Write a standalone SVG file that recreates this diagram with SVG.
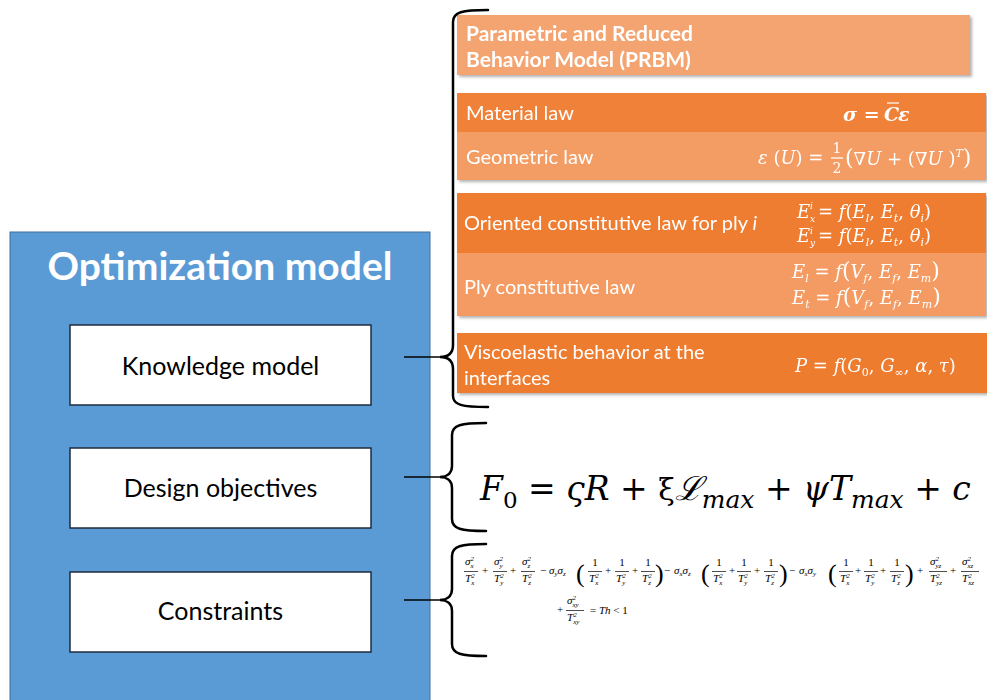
<svg xmlns="http://www.w3.org/2000/svg" width="987" height="700" viewBox="0 0 987 700">
<defs>
<filter id="sh" x="-5%" y="-20%" width="110%" height="150%"><feDropShadow dx="2" dy="2" stdDeviation="1.5" flood-color="#000" flood-opacity="0.3"/></filter>
</defs>
<style>
text{font-family:Lato,"Liberation Sans",sans-serif;}
.lbl{font-size:25px;fill:#000;}
.ot{fill:#fff;font-size:20px;}
.hd{fill:#fff;font-size:21px;font-weight:bold;}
.m{font-family:"DejaVu Serif","Liberation Serif",serif;font-style:italic;}
.cm{font-family:"Liberation Serif","DejaVu Serif",serif;font-style:italic;font-size:11px;fill:#000;}
.r{font-style:normal;}
.s{font-size:7px;}
.w{fill:#fff;}
.brace{fill:none;stroke:#000;stroke-width:2.5;stroke-linecap:round;}
.conn{stroke:#000;stroke-width:1.6;}
.box{fill:#fff;stroke:#1f2d3d;stroke-width:1.5;}
.bar{stroke:#000;stroke-width:0.7;}
.wbar{stroke:#fff;stroke-width:1.2;}
.par{font-family:"Liberation Serif",serif;font-style:normal;font-size:26px;}
</style>
<rect width="987" height="700" fill="#fff"/>

<g id="optimization-model">
<rect x="10" y="232" width="420" height="470" fill="#5B9BD5" stroke="#41719C" stroke-width="1"/>
<text x="220" y="280" text-anchor="middle" font-size="39" font-weight="bold" fill="#fff">Optimization model</text>
</g>

<g id="knowledge-model">
<rect class="box" x="70" y="325" width="301" height="80"/>
<text class="lbl" x="220.5" y="375" text-anchor="middle">Knowledge model</text>
</g>
<g id="design-objectives">
<rect class="box" x="70" y="448" width="301" height="80"/>
<text class="lbl" x="220.5" y="497" text-anchor="middle">Design objectives</text>
</g>
<g id="constraints">
<rect class="box" x="70" y="572" width="301" height="80"/>
<text class="lbl" x="220.5" y="620" text-anchor="middle">Constraints</text>
</g>

<g id="prbm" filter="url(#sh)">
<rect x="457" y="15" width="513" height="60" fill="#F3A470"/>
<text class="hd" x="466" y="41">Parametric and Reduced</text>
<text class="hd" x="466" y="67">Behavior Model (PRBM)</text>
</g>

<g id="material-geometric" filter="url(#sh)">
<rect x="457" y="93" width="529" height="39" fill="#EF8139"/>
<rect x="457" y="132" width="529" height="48" fill="#F39D65"/>
<text class="ot" x="466" y="120">Material law</text>
<text class="ot" x="466" y="164">Geometric law</text>
<text class="m w" x="843" y="121" font-size="19" font-weight="bold">σ<tspan class="r"> = </tspan></text>
<text class="m w" x="884" y="121" font-size="19" font-weight="bold">C</text>
<line class="wbar" x1="887" y1="103" x2="899" y2="103"/>
<text class="m w" x="898" y="121" font-size="19" font-weight="bold">ε</text>
<text class="m w" x="758" y="164" font-size="18">ε<tspan class="r"> (</tspan>U<tspan class="r">) = </tspan></text>
<text class="m w r" x="837" y="153" font-size="14" text-anchor="middle">1</text>
<line class="wbar" x1="831" y1="158" x2="843" y2="158"/>
<text class="m w r" x="837" y="173" font-size="14" text-anchor="middle">2</text>
<text class="m w" x="845" y="165" font-size="18"><tspan class="r" font-size="22">(</tspan>∇U<tspan class="r"> + (</tspan>∇U<tspan class="r"> )</tspan><tspan font-size="11" dy="-8">T</tspan><tspan class="r" font-size="22" dy="8">)</tspan></text>
</g>

<g id="oriented-ply" filter="url(#sh)">
<rect x="457" y="193" width="529" height="60" fill="#EE7D32"/>
<rect x="457" y="253" width="529" height="63" fill="#F39B62"/>
<text class="ot" x="464" y="230">Oriented constitutive law for ply <tspan font-style="italic">i</tspan></text>
<text class="ot" x="464" y="294">Ply constitutive law</text>
<text class="m w" x="797" y="218" font-size="18">E</text>
<text class="m w" x="810" y="209" font-size="9">i</text>
<text class="m w" x="810" y="222" font-size="9">x</text>
<text class="m w" x="818" y="218" font-size="18"><tspan class="r">= </tspan>f<tspan class="r">(</tspan>E<tspan font-size="11" dy="4">l</tspan><tspan class="r" dy="-4">, </tspan>E<tspan font-size="11" dy="4">t</tspan><tspan class="r" dy="-4">, </tspan>θ<tspan font-size="11" dy="4">i</tspan><tspan class="r" dy="-4">)</tspan></text>
<text class="m w" x="797" y="242" font-size="18">E</text>
<text class="m w" x="810" y="234" font-size="9">i</text>
<text class="m w" x="810" y="246" font-size="9">y</text>
<text class="m w" x="818" y="242" font-size="18"><tspan class="r">= </tspan>f<tspan class="r">(</tspan>E<tspan font-size="11" dy="4">l</tspan><tspan class="r" dy="-4">, </tspan>E<tspan font-size="11" dy="4">t</tspan><tspan class="r" dy="-4">, </tspan>θ<tspan font-size="11" dy="4">i</tspan><tspan class="r" dy="-4">)</tspan></text>
<text class="m w" x="792" y="278" font-size="18">E<tspan font-size="11" dy="4">l</tspan><tspan class="r" dy="-4"> = </tspan>f<tspan class="r" font-size="22">(</tspan>V<tspan font-size="11" dy="4">f</tspan><tspan class="r" dy="-4">, </tspan>E<tspan font-size="11" dy="4">f</tspan><tspan class="r" dy="-4">, </tspan>E<tspan font-size="11" dy="4">m</tspan><tspan class="r" font-size="22" dy="-4">)</tspan></text>
<text class="m w" x="792" y="304" font-size="18">E<tspan font-size="11" dy="4">t</tspan><tspan class="r" dy="-4"> = </tspan>f<tspan class="r" font-size="22">(</tspan>V<tspan font-size="11" dy="4">f</tspan><tspan class="r" dy="-4">, </tspan>E<tspan font-size="11" dy="4">f</tspan><tspan class="r" dy="-4">, </tspan>E<tspan font-size="11" dy="4">m</tspan><tspan class="r" font-size="22" dy="-4">)</tspan></text>
</g>

<g id="viscoelastic" filter="url(#sh)">
<rect x="457" y="333" width="530" height="60" fill="#ED7B2F"/>
<text class="ot" x="464" y="359">Viscoelastic behavior at the</text>
<text class="ot" x="464" y="385">interfaces</text>
<text class="m w" x="795" y="372" font-size="18">P<tspan class="r"> = </tspan>f<tspan class="r">(</tspan>G<tspan class="r" font-size="11" dy="4">0</tspan><tspan class="r" dy="-4">, </tspan>G<tspan class="r" font-size="11" dy="4">∞</tspan><tspan class="r" dy="-4">, </tspan>α<tspan class="r">, </tspan>τ<tspan class="r">)</tspan></text>
</g>

<g id="objective-formula">
<text class="m" x="480" y="500" font-size="33">F<tspan class="r" font-size="23" dy="8">0</tspan><tspan class="r" dy="-8"> = </tspan>ςR<tspan class="r"> + </tspan><tspan class="r" font-size="30">ξ</tspan>ℒ<tspan font-size="25" dy="8">max</tspan><tspan class="r" dy="-8"> + </tspan>ψT<tspan font-size="25" dy="8">max</tspan><tspan class="r" dy="-8"> + </tspan>c</text>
</g>

<g id="constraint-formula">
<text class="cm" x="465" y="565">σ<tspan class="s" dy="-4.5">2</tspan><tspan class="s" dx="-3.5" dy="7.5">x</tspan></text>
<line class="bar" x1="464" y1="571.5" x2="478" y2="571.5"/>
<text class="cm" x="465" y="582">T<tspan class="s" dy="-4.5">2</tspan><tspan class="s" dx="-3.5" dy="7.5">x</tspan></text>
<text class="cm r" x="485" y="574" text-anchor="middle">+</text>
<text class="cm" x="494" y="565">σ<tspan class="s" dy="-4.5">2</tspan><tspan class="s" dx="-3.5" dy="7.5">y</tspan></text>
<line class="bar" x1="493" y1="571.5" x2="507" y2="571.5"/>
<text class="cm" x="494" y="582">T<tspan class="s" dy="-4.5">2</tspan><tspan class="s" dx="-3.5" dy="7.5">y</tspan></text>
<text class="cm r" x="513" y="574" text-anchor="middle">+</text>
<text class="cm" x="522" y="565">σ<tspan class="s" dy="-4.5">2</tspan><tspan class="s" dx="-3.5" dy="7.5">z</tspan></text>
<line class="bar" x1="521" y1="571.5" x2="535" y2="571.5"/>
<text class="cm" x="522" y="582">T<tspan class="s" dy="-4.5">2</tspan><tspan class="s" dx="-3.5" dy="7.5">z</tspan></text>
<text class="cm r" x="543" y="574" text-anchor="middle">−</text>
<text class="cm" x="549" y="574">σ<tspan class="s" dy="2">y</tspan><tspan dy="-2">σ</tspan><tspan class="s" dy="2">z</tspan></text>
<text class="cm par" x="576" y="582">(</text>
<text class="cm r" x="595" y="566" text-anchor="middle">1</text>
<line class="bar" x1="588" y1="571.5" x2="602" y2="571.5"/>
<text class="cm" x="589" y="582">T<tspan class="s" dy="-4.5">2</tspan><tspan class="s" dx="-3.5" dy="7.5">x</tspan></text>
<text class="cm r" x="608" y="574" text-anchor="middle">+</text>
<text class="cm r" x="622" y="566" text-anchor="middle">1</text>
<line class="bar" x1="615" y1="571.5" x2="629" y2="571.5"/>
<text class="cm" x="616" y="582">T<tspan class="s" dy="-4.5">2</tspan><tspan class="s" dx="-3.5" dy="7.5">y</tspan></text>
<text class="cm r" x="635" y="574" text-anchor="middle">+</text>
<text class="cm r" x="648" y="566" text-anchor="middle">1</text>
<line class="bar" x1="641" y1="571.5" x2="655" y2="571.5"/>
<text class="cm" x="642" y="582">T<tspan class="s" dy="-4.5">2</tspan><tspan class="s" dx="-3.5" dy="7.5">z</tspan></text>
<text class="cm par" x="655" y="582">)</text>
<text class="cm r" x="667" y="574" text-anchor="middle">−</text>
<text class="cm" x="674" y="574">σ<tspan class="s" dy="2">x</tspan><tspan dy="-2">σ</tspan><tspan class="s" dy="2">z</tspan></text>
<text class="cm par" x="701" y="582">(</text>
<text class="cm r" x="719" y="566" text-anchor="middle">1</text>
<line class="bar" x1="712" y1="571.5" x2="726" y2="571.5"/>
<text class="cm" x="713" y="582">T<tspan class="s" dy="-4.5">2</tspan><tspan class="s" dx="-3.5" dy="7.5">x</tspan></text>
<text class="cm r" x="732" y="574" text-anchor="middle">+</text>
<text class="cm r" x="744" y="566" text-anchor="middle">1</text>
<line class="bar" x1="737" y1="571.5" x2="751" y2="571.5"/>
<text class="cm" x="738" y="582">T<tspan class="s" dy="-4.5">2</tspan><tspan class="s" dx="-3.5" dy="7.5">y</tspan></text>
<text class="cm r" x="757" y="574" text-anchor="middle">+</text>
<text class="cm r" x="771" y="566" text-anchor="middle">1</text>
<line class="bar" x1="764" y1="571.5" x2="778" y2="571.5"/>
<text class="cm" x="765" y="582">T<tspan class="s" dy="-4.5">2</tspan><tspan class="s" dx="-3.5" dy="7.5">z</tspan></text>
<text class="cm par" x="779" y="582">)</text>
<text class="cm r" x="792" y="574" text-anchor="middle">−</text>
<text class="cm" x="799" y="574">σ<tspan class="s" dy="2">x</tspan><tspan dy="-2">σ</tspan><tspan class="s" dy="2">y</tspan></text>
<text class="cm par" x="828" y="582">(</text>
<text class="cm r" x="846" y="566" text-anchor="middle">1</text>
<line class="bar" x1="839" y1="571.5" x2="853" y2="571.5"/>
<text class="cm" x="840" y="582">T<tspan class="s" dy="-4.5">2</tspan><tspan class="s" dx="-3.5" dy="7.5">x</tspan></text>
<text class="cm r" x="858" y="574" text-anchor="middle">+</text>
<text class="cm r" x="871" y="566" text-anchor="middle">1</text>
<line class="bar" x1="864" y1="571.5" x2="878" y2="571.5"/>
<text class="cm" x="865" y="582">T<tspan class="s" dy="-4.5">2</tspan><tspan class="s" dx="-3.5" dy="7.5">y</tspan></text>
<text class="cm r" x="883" y="574" text-anchor="middle">+</text>
<text class="cm r" x="897" y="566" text-anchor="middle">1</text>
<line class="bar" x1="890" y1="571.5" x2="904" y2="571.5"/>
<text class="cm" x="891" y="582">T<tspan class="s" dy="-4.5">2</tspan><tspan class="s" dx="-3.5" dy="7.5">z</tspan></text>
<text class="cm par" x="905" y="582">)</text>
<text class="cm r" x="920" y="574" text-anchor="middle">+</text>
<text class="cm" x="930" y="565">σ<tspan class="s" dy="-4.5">2</tspan><tspan class="s" dx="-3.5" dy="7.5">yz</tspan></text>
<line class="bar" x1="929" y1="571.5" x2="947" y2="571.5"/>
<text class="cm" x="930" y="582">T<tspan class="s" dy="-4.5">2</tspan><tspan class="s" dx="-3.5" dy="7.5">yz</tspan></text>
<text class="cm r" x="953" y="574" text-anchor="middle">+</text>
<text class="cm" x="962" y="565">σ<tspan class="s" dy="-4.5">2</tspan><tspan class="s" dx="-3.5" dy="7.5">xz</tspan></text>
<line class="bar" x1="961" y1="571.5" x2="979" y2="571.5"/>
<text class="cm" x="962" y="582">T<tspan class="s" dy="-4.5">2</tspan><tspan class="s" dx="-3.5" dy="7.5">xz</tspan></text>
<text class="cm r" x="560" y="613" text-anchor="middle">+</text>
<text class="cm" x="567" y="604">σ<tspan class="s" dy="-4.5">2</tspan><tspan class="s" dx="-3.5" dy="7.5">xy</tspan></text>
<line class="bar" x1="566" y1="610.5" x2="584" y2="610.5"/>
<text class="cm" x="567" y="621">T<tspan class="s" dy="-4.5">2</tspan><tspan class="s" dx="-3.5" dy="7.5">xy</tspan></text>
<text class="cm" x="590" y="614"><tspan class="r">= </tspan>Th<tspan class="r"> &lt; 1</tspan></text>
</g>

<g id="connectors">
<line class="conn" x1="404" y1="357" x2="441" y2="357"/>
<line class="conn" x1="404" y1="477" x2="441" y2="477"/>
<line class="conn" x1="404" y1="600" x2="441" y2="600"/>
<path class="brace" d="M488 10 C462 10 453 12 453 22 L453 345 C453 354 447 357 440 357 C447 357 453 360 453 369 L453 396 C453 405 462 407 488 407"/>
<path class="brace" d="M486 423 C461 423 452 425 452 435 L452 466 C452 474 446 477 440 477 C446 477 452 480 452 488 L452 519 C452 529 461 531 486 531"/>
<path class="brace" d="M486 544 C461 544 452 546 452 556 L452 589 C452 597 446 600 440 600 C446 600 452 603 452 611 L452 644 C452 654 461 656 486 656"/>
</g>
</svg>
